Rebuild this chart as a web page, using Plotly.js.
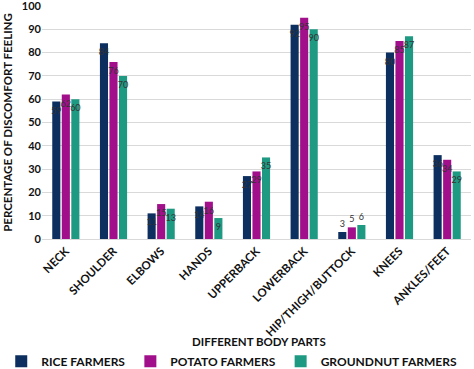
<!DOCTYPE html>
<html><head><meta charset="utf-8">
<script src="https://cdn.plot.ly/plotly-3.0.1.min.js"></script>
<style>html,body{margin:0;padding:0;background:#fff}#chart{width:474px;height:369px}</style>
</head><body><div id="chart"></div>
<script>
var categories = ["NECK","SHOULDER","ELBOWS","HANDS","UPPERBACK","LOWERBACK","HIP/THIGH/BUTTOCK","KNEES","ANKLES/FEET"];
var riceFarmers = [59,84,11,14,27,92,3,80,36];
var potatoFarmers = [62,76,15,16,29,95,5,85,34];
var groundnutFarmers = [60,70,13,9,35,90,6,87,29];
var seriesNames = ["RICE FARMERS","POTATO FARMERS","GROUNDNUT FARMERS"];
var xTitle = "DIFFERENT BODY PARTS";
var yTitle = "PERCENTAGE OF DISCOMFORT FEELING";
var colors = ["#0c2f5f","#a1108a","#1f9a82"];
var font = "Lato, 'DejaVu Sans', sans-serif";

function mk(name, vals, color){
  return {type:'bar', name:name, x:categories, y:vals, marker:{color:color},
    text:vals.map(String),
    textposition:vals.map(function(v){return v < 8 ? 'outside' : 'inside';}),
    insidetextanchor:'end', constraintext:'none', textangle:0,
    textfont:{family:font, size:9, color:'#333333'}, cliponaxis:false};
}
var data = [mk(seriesNames[0], riceFarmers, colors[0]), mk(seriesNames[1], potatoFarmers, colors[1]), mk(seriesNames[2], groundnutFarmers, colors[2])];
var layout = {
  width:474, height:369,
  margin:{l:42,r:3,t:6,b:130,autoexpand:false},
  paper_bgcolor:'#fff', plot_bgcolor:'#fff',
  barmode:'group', bargap:0.4, bargroupgap:0.15,
  font:{family:font, color:'#111'},
  xaxis:{automargin:false, tickangle:-45, tickfont:{family:font,size:11.5,color:'#111',weight:'bold'},
    showgrid:false, showline:true, linecolor:'#d9d9d9', ticks:''},
  yaxis:{automargin:false, range:[0,100], dtick:10, gridcolor:'#d9d9d9', zeroline:false,
    ticklabeloverflow:'allow',
    tickfont:{family:font,size:11,color:'#111',weight:'bold'}, ticks:'', ticklen:0,
    title:{text:yTitle, font:{family:font,size:11.5,color:'#111',weight:'bold'}, standoff:6}},
  annotations:[{text:xTitle, xref:'paper', yref:'paper', x:0.505, y:-0.44, xanchor:'center', yanchor:'middle',
    showarrow:false, font:{family:font,size:11.5,color:'#111',weight:'bold'}}],
  showlegend:true,
  legend:{orientation:'h', x:-0.095, xanchor:'left', y:-0.525, yanchor:'middle',
    font:{family:font,size:12,color:'#111',weight:'bold'}, itemwidth:30, tracegroupgap:0}
};
Plotly.newPlot('chart', data, layout, {displayModeBar:false, staticPlot:true});
</script></body></html>
